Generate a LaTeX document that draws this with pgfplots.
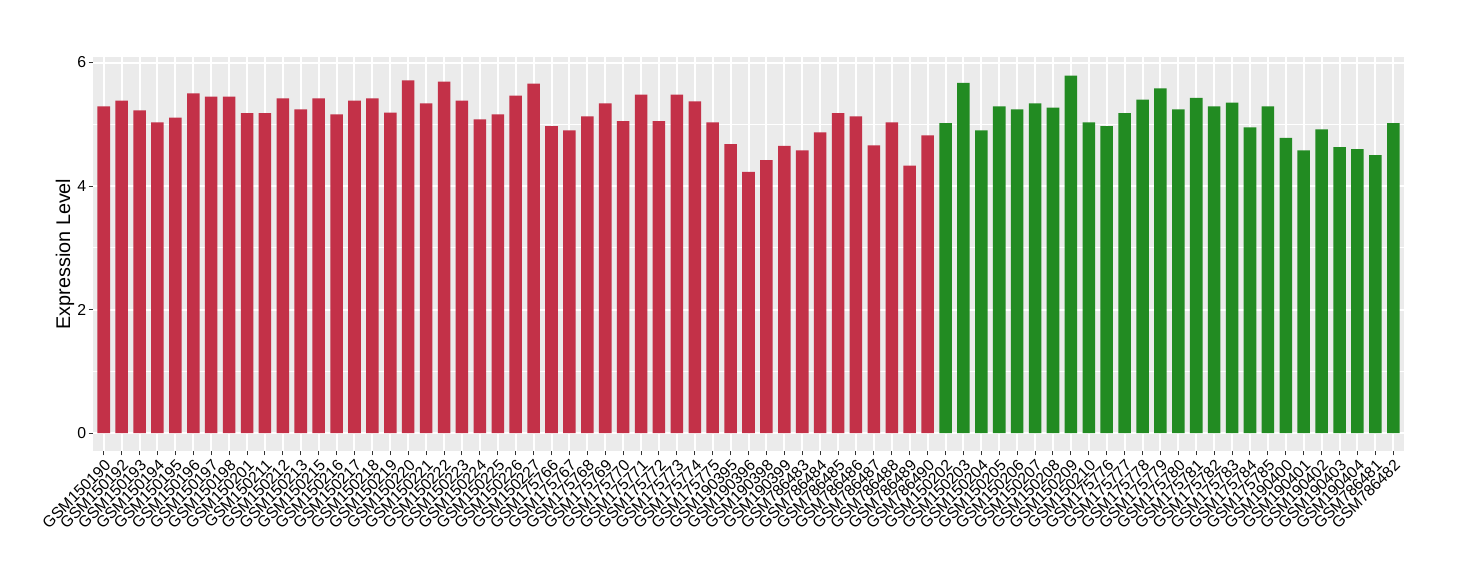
\documentclass[border=0pt]{standalone}
\usepackage{pgfplots}
\pgfplotsset{compat=1.18}
\usepackage{fontspec}
\setmainfont{Liberation Sans}
\definecolor{barred}{RGB}{195,49,72}
\definecolor{bargreen}{RGB}{34,139,34}
\definecolor{panelbg}{RGB}{235,235,235}
\definecolor{tickgrey}{RGB}{51,51,51}
\begin{document}
\begin{tikzpicture}
\path[use as bounding box] (0,0) rectangle (730pt,290pt);
\begin{axis}[
  at={(46.5pt,64.5pt)}, anchor=south west,
  scale only axis, width=655.5pt, height=197pt,
  xmin=-0.6, xmax=72.6, ymin=-0.29, ymax=6.09,
  axis background/.style={fill=panelbg},
  axis line style={draw=none},
  xtick={0,...,72},
  xticklabels={GSM150190,GSM150192,GSM150193,GSM150194,GSM150195,GSM150196,GSM150197,GSM150198,GSM150201,GSM150211,GSM150212,GSM150213,GSM150215,GSM150216,GSM150217,GSM150218,GSM150219,GSM150220,GSM150221,GSM150222,GSM150223,GSM150224,GSM150225,GSM150226,GSM150227,GSM175766,GSM175767,GSM175768,GSM175769,GSM175770,GSM175771,GSM175772,GSM175773,GSM175774,GSM175775,GSM190395,GSM190396,GSM190398,GSM190399,GSM786483,GSM786484,GSM786485,GSM786486,GSM786487,GSM786488,GSM786489,GSM786490,GSM150202,GSM150203,GSM150204,GSM150205,GSM150206,GSM150207,GSM150208,GSM150209,GSM150210,GSM175776,GSM175777,GSM175778,GSM175779,GSM175780,GSM175781,GSM175782,GSM175783,GSM175784,GSM175785,GSM190400,GSM190401,GSM190402,GSM190403,GSM190404,GSM786481,GSM786482},
  ytick={0,2,4,6},
  minor ytick={1,3,5},
  xtick pos=bottom, ytick pos=left,
  tick align=outside,
  major tick length=2.2pt,
  minor tick length=0pt,
  tick style={tickgrey, line width=0.5pt},
  grid=both,
  major grid style={white, line width=1pt},
  minor grid style={white, line width=0.5pt},
  /pgf/number format/assume math mode=true,
  ticklabel style={font=\fontsize{7.9}{9}\selectfont, text=black},
  xticklabel style={rotate=45, anchor=north east, inner sep=1pt},
  yticklabel style={inner sep=1pt},
  ylabel={Expression Level},
  every axis y label/.style={at={(axis description cs:-0.0214,0.5)}, rotate=90, anchor=center, font=\fontsize{9.9}{12}\selectfont},
  ybar, bar width=0.7, bar shift=0pt,
  clip=false,
]
\addplot[fill=barred, draw=none] coordinates {
(0,5.29) (1,5.385) (2,5.225) (3,5.03) (4,5.11) (5,5.50) (6,5.45) (7,5.45) (8,5.18) (9,5.18)
(10,5.42) (11,5.24) (12,5.42) (13,5.16) (14,5.385) (15,5.42) (16,5.19) (17,5.71) (18,5.34) (19,5.69)
(20,5.385) (21,5.08) (22,5.16) (23,5.465) (24,5.66) (25,4.97) (26,4.90) (27,5.13) (28,5.34) (29,5.05)
(30,5.48) (31,5.05) (32,5.48) (33,5.37) (34,5.03) (35,4.68) (36,4.23) (37,4.42) (38,4.65) (39,4.58)
(40,4.87) (41,5.18) (42,5.13) (43,4.66) (44,5.03) (45,4.33) (46,4.82)
};
\addplot[fill=bargreen, draw=none] coordinates {
(47,5.02) (48,5.67) (49,4.90) (50,5.29) (51,5.24) (52,5.34) (53,5.27) (54,5.79) (55,5.03) (56,4.97)
(57,5.18) (58,5.40) (59,5.58) (60,5.24) (61,5.43) (62,5.29) (63,5.35) (64,4.95) (65,5.29) (66,4.78)
(67,4.58) (68,4.92) (69,4.63) (70,4.60) (71,4.50) (72,5.02)
};
\end{axis}
\end{tikzpicture}
\end{document}
